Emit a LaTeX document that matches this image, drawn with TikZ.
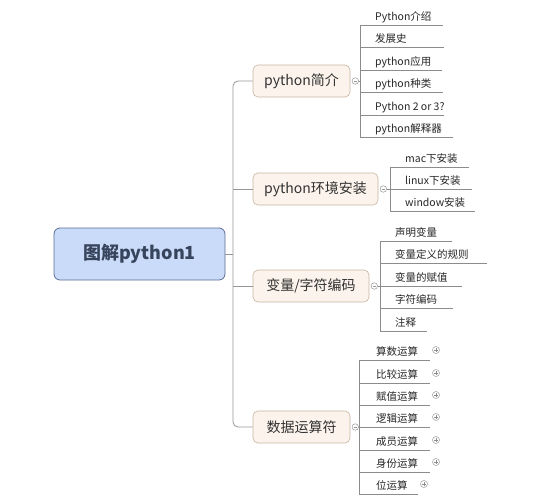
\documentclass[tikz,border=0pt]{standalone}
\usepackage{fontspec}
\setmainfont{Noto Sans CJK SC}
\definecolor{rootfill}{RGB}{201,219,248}
\definecolor{rootdraw}{RGB}{92,110,148}
\definecolor{roottext}{RGB}{55,68,92}
\definecolor{brfill}{RGB}{252,244,236}
\definecolor{brdraw}{RGB}{200,180,160}
\definecolor{brtext}{RGB}{50,50,50}
\definecolor{linec}{RGB}{150,150,150}
\definecolor{ulc}{RGB}{140,140,140}
\tikzset{
  rootbox/.style={draw=rootdraw, fill=rootfill, rounded corners=6pt, line width=0.8pt,
    minimum width=171pt, minimum height=52pt, inner sep=0pt,
    font=\fontsize{18}{20}\selectfont\bfseries, text=roottext},
  brbox/.style={draw=brdraw, fill=brfill, rounded corners=5pt, line width=0.6pt,
    minimum height=32pt, inner sep=0pt, font=\fontsize{14}{16}\selectfont, text=brtext},
  leaf/.style={anchor=base west, inner sep=0pt, font=\fontsize{10.5}{12}\selectfont, text=black!85},
  trunk/.style={draw=linec, line width=0.8pt, rounded corners=5pt},
  vline/.style={draw=ulc, line width=0.8pt},
  uline/.style={draw=ulc, line width=0.8pt},
  knob/.style={circle, draw=linec, fill=white, line width=0.5pt, minimum size=6.5pt, inner sep=0pt},
  plusknob/.style={circle, draw=black!40, fill=white, line width=0.5pt, minimum size=7pt, inner sep=0pt},
}
\begin{document}
\begin{tikzpicture}[x=1pt,y=-1pt]
\useasboundingbox (0,0) rectangle (558,504);
% root
\node[rootbox] (root) at (139.5,254) {图解python1};
% branches
\node[brbox, minimum width=97pt] (b1) at (301.5,81) {python简介};
\node[brbox, minimum width=125pt] (b2) at (315.5,189) {python环境安装};
\node[brbox, minimum width=116pt] (b3) at (311,286) {变量/字符编码};
\node[brbox, minimum width=97pt] (b4) at (301.5,427) {数据运算符};
% trunk
\coordinate (t) at (233,254);
\draw[trunk] (root.east) -- (t);
\draw[trunk] (b1.west) -| (t) |- (b4.west);
\draw[trunk] (t|-b2.west) -- (b2.west);
\draw[trunk] (t|-b3.west) -- (b3.west);
% knobs
\node[knob] (k1) at ([xshift=5pt]b1.east) {};
\node[knob] (k2) at ([xshift=5pt]b2.east) {};
\node[knob] (k3) at ([xshift=5pt]b3.east) {};
\node[knob] (k4) at ([xshift=5pt]b4.east) {};
\foreach \k in {k1,k2,k3,k4}{\draw[linec, line width=0.5pt] ([xshift=-1.8pt]\k.center) -- ([xshift=1.8pt]\k.center);}
% ---------- branch 1 children
\coordinate (v1a) at (360,25);
\coordinate (v1b) at (360,137);
\draw[vline] (k1.east) -- (k1.east-|v1a);
\draw[vline] (v1a) -- (v1b);
\foreach \y/\e/\t/\n in {25/443/Python介绍/c11, 47/444/发展史/c12, 70/442/python应用/c13, 92/443/python种类/c14, 115/444/Python 2 or 3?/c15, 137/453/python解释器/c16}{
  \coordinate (\n u) at (360,\y);
  \node[leaf] (\n) at (375,\y-5) {\t};
  \draw[uline] (\n u) -- (\e,\y);
}
% ---------- branch 2 children
\coordinate (v2a) at (390,167);
\coordinate (v2b) at (390,211);
\draw[vline] (k2.east) -- (k2.east-|v2a);
\draw[vline] (v2a) -- (v2b);
\foreach \y/\e/\t/\n in {167/469/mac下安装/c21, 189/472/linux下安装/c22, 211/475/window安装/c23}{
  \coordinate (\n u) at (390,\y);
  \node[leaf] (\n) at (405,\y-5) {\t};
  \draw[uline] (\n u) -- (\e,\y);
}
% ---------- branch 3 children
\coordinate (v3a) at (380,241);
\coordinate (v3b) at (380,331);
\draw[vline] (k3.east) -- (k3.east-|v3a);
\draw[vline] (v3a) -- (v3b);
\foreach \y/\e/\t/\n in {241/452/声明变量/c31, 263/487/变量定义的规则/c32, 286/462/变量的赋值/c33, 308/453/字符编码/c34, 331/427/注释/c35}{
  \coordinate (\n u) at (380,\y);
  \node[leaf] (\n) at (395,\y-5) {\t};
  \draw[uline] (\n u) -- (\e,\y);
}
% ---------- branch 4 children
\coordinate (v4a) at (359,360);
\coordinate (v4b) at (359,494);
\draw[vline] (k4.east) -- (k4.east-|v4a);
\draw[vline] (v4a) -- (v4b);
\foreach \y/\e/\px/\t/\n in {360/430/436/算数运算/c41, 383/430/436/比较运算/c42, 405/430/436/赋值运算/c43, 427/430/436/逻辑运算/c44, 450/430/436/成员运算/c45, 472/430/436/身份运算/c46, 494/418/424/位运算/c47}{
  \coordinate (\n u) at (359,\y);
  \node[leaf] (\n) at (376,\y-5) {\t};
  \draw[uline] (\n u) -- (\e,\y);
  \node[plusknob] (\n p) at (\px,\y-10) {};
  \draw[black!45, line width=0.5pt] ([xshift=-1.8pt]\n p.center) -- ([xshift=1.8pt]\n p.center)
    ([yshift=-1.8pt]\n p.center) -- ([yshift=1.8pt]\n p.center);
}
\end{tikzpicture}
\end{document}
